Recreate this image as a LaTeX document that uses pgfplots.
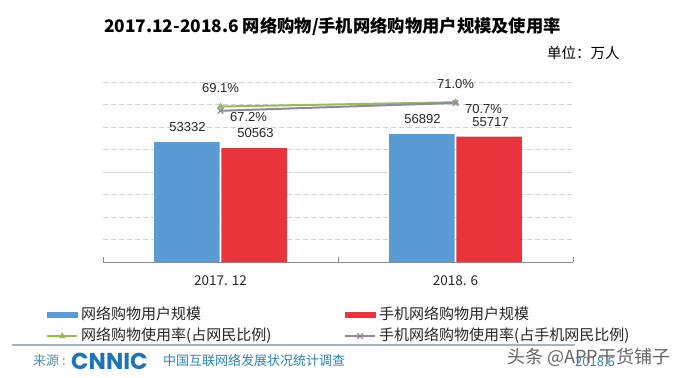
\documentclass[border=0pt]{standalone}
\usepackage{pgfplots}
\pgfplotsset{compat=1.18}
\usepackage{fontspec}
\setmainfont{Liberation Sans}
\newfontfamily\cjk{Noto Sans CJK SC}
\newfontfamily\arial{Liberation Sans}
\newfontfamily\logo{Poppins}
\definecolor{cBlue}{HTML}{5B9BD5}
\definecolor{cRed}{HTML}{E8343A}
\definecolor{cGreen}{HTML}{9BBB59}
\definecolor{cGray}{HTML}{8A8AA0}
\definecolor{cGrid}{HTML}{D0D0D0}
\definecolor{cAxis}{HTML}{8C8C8C}
\definecolor{cTeal}{HTML}{2A86B6}
\definecolor{cSrc}{HTML}{5A8CB0}
\definecolor{cLogo}{HTML}{1C74B9}
\definecolor{cSep}{HTML}{9FB3C6}
\begin{document}
\begin{tikzpicture}[x=1bp,y=1bp]
\useasboundingbox (0,0) rectangle (680,377);
\fill[white] (0,0) rectangle (680,377);
% titles
\node[anchor=west, inner sep=0pt, font=\cjk\bfseries\fontsize{17.3bp}{20bp}\selectfont] at (104,350) {2017.12-2018.6 网络购物/手机网络购物用户规模及使用率};
\node[anchor=west, inner sep=0pt, font=\cjk\fontsize{14.5bp}{17bp}\selectfont] at (547,324) {单位：万人};
% bars axis
\begin{axis}[
  at={(103bp,115bp)}, anchor=south west,
  scale only axis, width=470bp, height=180bp,
  xmin=-0.5, xmax=1.5, ymin=0, ymax=80000,
  axis x line*=bottom, axis y line*=left,
  y axis line style={draw=none},
  x axis line style={cAxis, line width=0.8bp},
  xtick={0,1}, xticklabels={2017. 12, 2018. 6},
  major x tick style={draw=none},
  minor xtick={-0.5,0.5,1.5},
  minor x tick style={cAxis, line width=0.8bp},
  minor tick length=5bp,
  xticklabel style={anchor=center, yshift=-19bp, font=\cjk\fontsize{13.5bp}{16bp}\selectfont, text=black!85},
  ytick={10000,20000,30000,40000,50000,60000,70000,80000},
  yticklabels={},
  scaled y ticks=false,
  ytick style={draw=none},
  ymajorgrids,
  major grid style={cGrid, dash pattern=on 5bp off 3bp, line width=0.8bp},
  clip=false,
]
\addplot[ybar, bar width=0.278, bar shift=-0.143, fill=cBlue, draw=none,
  point meta=explicit symbolic, nodes near coords,
  every node near coord/.style={anchor=center, xshift=-33bp, yshift=15bp, font=\arial\fontsize{13bp}{15bp}\selectfont, text=black!85}]
  coordinates {(0,53332) [53332] (1,56892) [56892]};
\addplot[ybar, bar width=0.278, bar shift=0.143, fill=cRed, draw=none,
  point meta=explicit symbolic, nodes near coords,
  every node near coord/.style={anchor=center, xshift=35bp, yshift=15bp, font=\arial\fontsize{13bp}{15bp}\selectfont, text=black!85}]
  coordinates {(0,50563) [50563] (1,55717) [55717]};
\end{axis}
% percentage axis
\begin{axis}[
  at={(103bp,115bp)}, anchor=south west,
  scale only axis, width=470bp, height=180bp,
  xmin=-0.5, xmax=1.5, ymin=0, ymax=80,
  hide axis, clip=false,
  legend columns=2,
  legend style={draw=none, fill=none, at={(axis description cs:-0.1213,-0.255)}, anchor=north west,
    inner sep=0pt, column sep=0pt, row sep=7bp,
    font=\cjk\fontsize{15bp}{18bp}\selectfont,
    nodes={inner xsep=3bp, inner ysep=0pt, text height=11bp, text depth=3bp, text=black!85}},
  legend cell align=left,
  legend image code/.code={\draw[mark repeat=2,mark phase=2,#1] plot coordinates {(0bp,0bp) (15bp,0bp) (30bp,0bp)};},
]
\addlegendimage{legend image code/.code={\fill[cBlue] (0bp,-2.5bp) rectangle (30bp,2.5bp);}}
\addlegendentry{\makebox[260bp][l]{网络购物用户规模}}
\addlegendimage{legend image code/.code={\fill[cRed] (0bp,-2.5bp) rectangle (30bp,2.5bp);}}
\addlegendentry{手机网络购物用户规模}
\addplot[cGreen, line width=2bp, mark=triangle*, mark size=3.5bp, mark options={solid, fill=cGreen, line width=0.5bp},
  point meta=explicit symbolic, nodes near coords,
  every node near coord/.style={anchor=center, yshift=18.5bp, font=\arial\fontsize{13bp}{15bp}\selectfont, text=black!85}]
  coordinates {(0,69.1) [69.1\%] (1,71.0) [71.0\%]};
\addlegendentry{\makebox[260bp][l]{网络购物使用率(占网民比例)}}
\addplot[cGray, line width=2bp, mark=x, mark size=4bp, mark options={solid, line width=1.2bp},
  point meta=explicit symbolic, nodes near coords,
  every node near coord/.style={anchor=center, xshift=28bp, yshift=-6.5bp, font=\arial\fontsize{13bp}{15bp}\selectfont, text=black!85}]
  coordinates {(0,67.2) [67.2\%] (1,70.7) [70.7\%]};
\addlegendentry{手机网络购物使用率(占手机网民比例)}
\end{axis}
% footer
\draw[cSep, line width=1.2bp] (12,32) -- (575,32);
\node[anchor=west, inner sep=0pt, font=\cjk\fontsize{13bp}{15bp}\selectfont, text=cSrc] at (33,16) {来源 :};
\node[anchor=west, inner sep=0pt, font=\logo\bfseries\fontsize{23bp}{26bp}\selectfont, text=cLogo] at (71,16) {CNNIC};
\node[anchor=west, inner sep=0pt, font=\cjk\fontsize{13bp}{15bp}\selectfont, text=cTeal] at (163,16) {中国互联网络发展状况统计调查};
\node[anchor=west, inner sep=0pt, font=\cjk\fontsize{13bp}{15bp}\selectfont, text=cTeal] at (575,15) {2018.6};
\node[anchor=west, inner sep=0pt, font=\cjk\fontsize{18bp}{20bp}\selectfont, text=black!60] at (507,20) {头条 @APP干货铺子};
\end{tikzpicture}
\end{document}
